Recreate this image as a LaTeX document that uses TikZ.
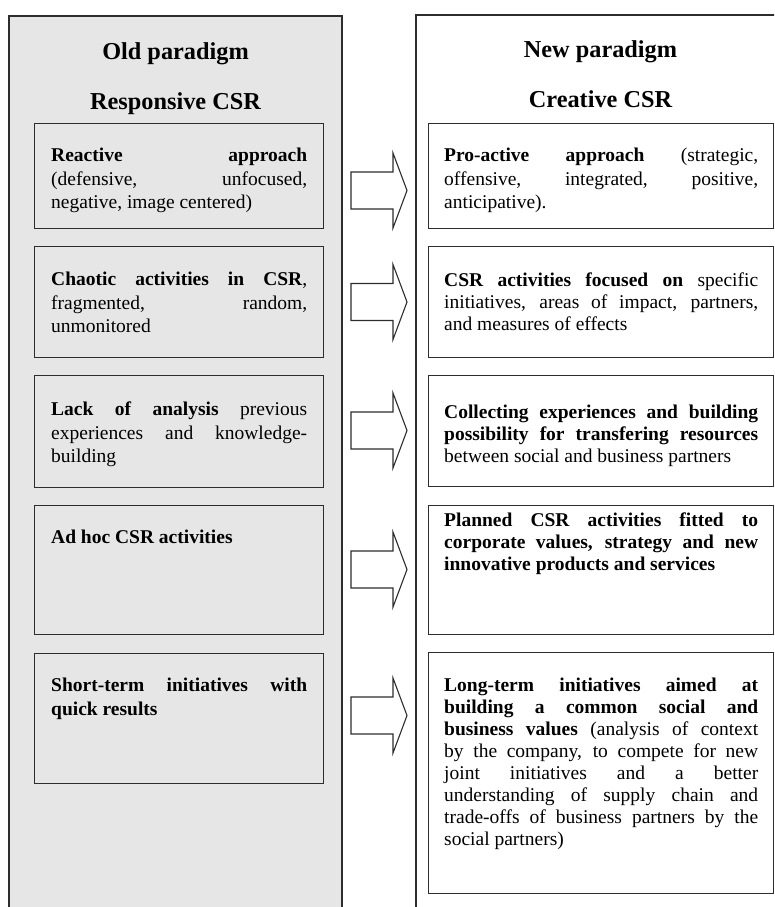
\documentclass[tikz,border=0pt]{standalone}
\usepackage{fontspec}
\setmainfont{Liberation Serif}
\usetikzlibrary{positioning}
\definecolor{panelgray}{RGB}{230, 230, 230}
\definecolor{edgegray}{RGB}{45, 45, 45}
\setlength{\parindent}{0pt}

\tikzset{
  panel/.style={draw=edgegray, line width=1.3pt},
  itembox/.style={draw=edgegray, line width=1.3pt, anchor=north west, inner sep=0pt},
  oldbox/.style={itembox, fill=panelgray, minimum width=289pt},
  newbox/.style={itembox, fill=white, minimum width=345pt},
  itemtext/.style={inner sep=0pt, align=justify,
    font=\fontsize{19.5}{23.5}\selectfont, execute at begin node=\strut},
  oldtext/.style={itemtext, text width=256pt},
  newtext/.style={itemtext, text width=314pt},
  tightlines/.style={font=\fontsize{19.5}{22}\selectfont},
  headtext/.style={font=\fontsize{24.3}{29}\selectfont\bfseries, anchor=base},
  shiftarrow/.style={draw=edgegray, line width=1.1pt, fill=white, line join=miter}
}

\begin{document}
\begin{tikzpicture}[x=1pt, y=-1pt]
  \useasboundingbox (0,0) rectangle (774,907);
  \clip (0,0) rectangle (774,907);

  % the two paradigm columns
  \draw[panel, fill=panelgray] (9,16) rectangle (342,940);
  \draw[panel, fill=white] (416,15) rectangle (800,940);

  \node[headtext] (oldhead) at (175.5,59.5) {Old paradigm};
  \node[headtext] (oldsub) at (175.5,109) {Responsive CSR};
  \node[headtext] (newhead) at (600.5,58) {New paradigm};
  \node[headtext] (newsub) at (600.5,107) {Creative CSR};

  % old paradigm boxes
  \node[oldbox, minimum height=105pt] (o1) at (34,123) {};
  \node[oldbox, minimum height=111pt] (o2) at (34,246) {};
  \node[oldbox, minimum height=112pt] (o3) at (34,375) {};
  \node[oldbox, minimum height=129pt] (o4) at (34,505) {};
  \node[oldbox, minimum height=130pt] (o5) at (34,653) {};

  \node[oldtext, below right=22pt and 17pt of o1.north west] (o1t)
    {\textbf{Reactive approach}\linebreak (defensive, unfocused,\linebreak negative, image centered)};
  \node[oldtext, below right=23pt and 17pt of o2.north west] (o2t)
    {\textbf{Chaotic activities in CSR},\linebreak fragmented, random,\linebreak unmonitored};
  \node[oldtext, below right=24pt and 17pt of o3.north west] (o3t)
    {\textbf{Lack of analysis} previous\linebreak experiences and knowledge-\linebreak building};
  \node[oldtext, below right=22pt and 17pt of o4.north west] (o4t)
    {\textbf{Ad hoc CSR activities}};
  \node[oldtext, below right=22pt and 17pt of o5.north west] (o5t)
    {\textbf{Short-term initiatives with}\linebreak \textbf{quick results}};

  % new paradigm boxes
  \node[newbox, minimum height=105pt] (n1) at (428,123) {};
  \node[newbox, minimum height=111pt] (n2) at (428,246) {};
  \node[newbox, minimum height=111pt] (n3) at (428,375) {};
  \node[newbox, minimum height=129pt] (n4) at (428,505) {};
  \node[newbox, minimum height=241pt] (n5) at (428,652) {};

  \node[newtext, below right=22pt and 16pt of n1.north west] (n1t)
    {\textbf{Pro-active approach} (strategic,\linebreak offensive, integrated, positive,\linebreak anticipative).};
  \node[newtext, tightlines, below right=25pt and 16pt of n2.north west] (n2t)
    {\textbf{CSR activities focused on} specific\linebreak initiatives, areas of impact, partners,\linebreak and measures of effects};
  \node[newtext, tightlines, below right=28pt and 16pt of n3.north west] (n3t)
    {\textbf{Collecting experiences and building}\linebreak \textbf{possibility for transfering resources}\linebreak between social and business partners};
  \node[newtext, tightlines, below right=6pt and 16pt of n4.north west] (n4t)
    {\textbf{Planned CSR activities fitted to}\linebreak \textbf{corporate values, strategy and new}\linebreak \textbf{innovative products and services}};
  \node[newtext, tightlines, below right=24pt and 16pt of n5.north west] (n5t)
    {\textbf{Long-term initiatives aimed at}\linebreak \textbf{building a common social and}\linebreak
     \textbf{business values} (analysis of context\linebreak by the company, to compete for new\linebreak
     joint initiatives and a better\linebreak understanding of supply chain and\linebreak
     trade-offs of business partners by the\linebreak social partners)};

  % block arrows between the columns
  \foreach \ay in {190.5, 302, 430.5, 569.5, 715.5}
    \draw[shiftarrow] (351,\ay-18.5) -- (393,\ay-18.5) -- (393,\ay-37.5) -- (407,\ay)
      -- (393,\ay+37.5) -- (393,\ay+18.5) -- (351,\ay+18.5) -- cycle;
\end{tikzpicture}
\end{document}
